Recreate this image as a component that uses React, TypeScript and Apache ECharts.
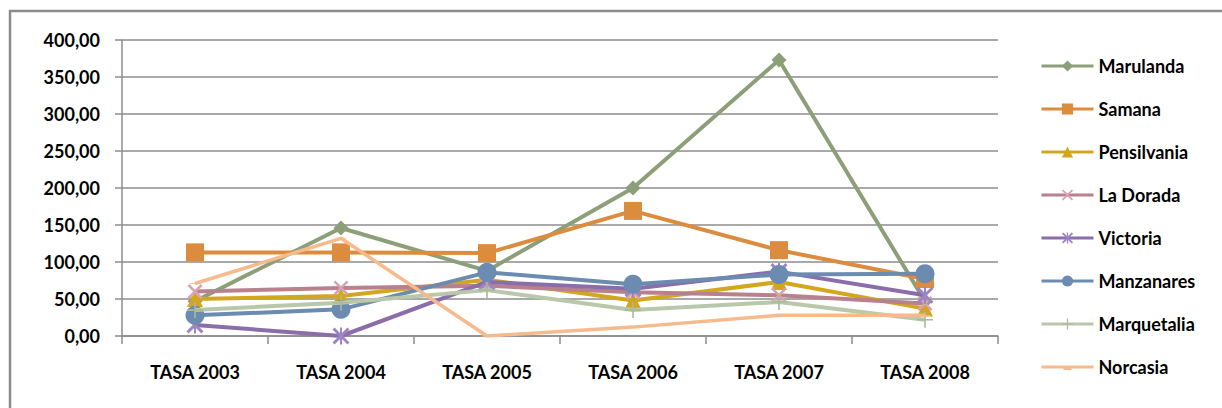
import React, { useEffect, useRef } from "react";
import * as echarts from "echarts";

const categories = ["TASA 2003", "TASA 2004", "TASA 2005", "TASA 2006", "TASA 2007", "TASA 2008"];
const yTicks = { min: 0, max: 400, interval: 50 };

const marulanda = [47, 146, 88, 200, 373, 47];
const samana = [113, 113, 112, 169, 116, 77];
const pensilvania = [50, 54, 76, 48, 73, 37];
const laDorada = [60, 65, 68, 59, 55, 44];
const victoria = [15, 0, 73, 64, 87, 55];
const manzanares = [28, 36, 86, 70, 83, 84];
const marquetalia = [35, 45, 62, 35, 46, 22];
const norcasia = [71, 132, 0, 12, 28, 28];

const seriesNames = ["Marulanda", "Samana", "Pensilvania", "La Dorada", "Victoria", "Manzanares", "Marquetalia", "Norcasia"];
const seriesValues = [marulanda, samana, pensilvania, laDorada, victoria, manzanares, marquetalia, norcasia];
const lineColors = ["#8D9F78", "#DB8C3E", "#D2A71F", "#B9808E", "#8B6DAA", "#6B8BB0", "#B9C8AA", "#F6BA8C"];
const markerColors = ["#8D9F78", "#DB8C3E", "#D2A71F", "#D9A2B4", "#9D84C4", "#6B8BB0", "#A9B99A", "#F6BA8C"];

const X_PATH = "path://M0,1.2 L1.2,0 L10,8.8 L8.8,10 Z M8.8,0 L10,1.2 L1.2,10 L0,8.8 Z";
const STAR_PATH = "path://M0,1.2 L1.2,0 L10,8.8 L8.8,10 Z M8.8,0 L10,1.2 L1.2,10 L0,8.8 Z M4.4,0 L5.6,0 L5.6,10 L4.4,10 Z";
const PLUS_PATH = "path://M4.5,0 L5.5,0 L5.5,10 L4.5,10 Z M0,4.5 L10,4.5 L10,5.5 L0,5.5 Z";
const DASH_PATH = "path://M0,0 L10,0 L10,3 L0,3 Z";
const NORC_LEGEND = "path://M0,0 L0.01,0 L0.01,0.01 Z M52,14 L51.99,14 L51.99,13.99 Z M0,5.5 L52,5.5 L52,8.5 L0,8.5 Z M22,7 L30,7 L30,10 L22,10 Z";
const symbols: any[] = ["diamond", "rect", "triangle", X_PATH, STAR_PATH, "circle", PLUS_PATH, DASH_PATH];
const symbolSizes: any[] = [15, 18, 16, 15, 17, 19, 16, [10, 3]];
const lineWidths = [4, 4, 4, 4, 4, 4, 4, 3.5];

const FONT = "Lato, 'Open Sans', sans-serif";

export default function App() {
  const ref = useRef<HTMLDivElement>(null);
  useEffect(() => {
    if (!ref.current) return;
    const chart = echarts.init(ref.current, undefined, { renderer: "svg" });
    chart.setOption({
      animation: false,
      backgroundColor: "#ffffff",
      textStyle: { fontFamily: FONT },
      graphic: [
        {
          type: "rect",
          shape: { x: 10, y: 11, width: 1240, height: 420 },
          style: { fill: "none", stroke: "#8c8c8c", lineWidth: 2.5 },
          z: 100,
        },
      ],
      grid: { left: 122, right: 224, top: 40, bottom: 72 },
      legend: {
        orient: "vertical",
        left: 1035,
        top: 52,
        itemWidth: 52,
        itemHeight: 14,
        itemGap: 25,
        textStyle: { fontFamily: FONT, fontSize: 18, fontWeight: "bold", color: "#000" },
        lineStyle: { width: 3 },
        data: seriesNames.map((n) => (n === "Norcasia" ? { name: n, icon: NORC_LEGEND } : n)),
      },
      xAxis: {
        type: "category",
        data: categories,
        boundaryGap: true,
        axisLine: { show: true, lineStyle: { color: "#8c8c8c", width: 1.5 } },
        axisTick: { show: true, length: 8, lineStyle: { color: "#8c8c8c", width: 1.5 } },
        axisLabel: { color: "#000", fontSize: 18, fontWeight: "bold", fontFamily: FONT, margin: 27 },
      },
      yAxis: {
        type: "value",
        min: yTicks.min,
        max: yTicks.max,
        interval: yTicks.interval,
        axisLine: { show: true, lineStyle: { color: "#8c8c8c", width: 1.5 } },
        axisTick: { show: true, length: 7, lineStyle: { color: "#8c8c8c", width: 1.5 } },
        splitLine: { show: true, lineStyle: { color: "#8c8c8c", width: 1.5 } },
        axisLabel: {
          color: "#000",
          fontSize: 18,
          fontWeight: "bold",
          fontFamily: FONT,
          margin: 22,
          formatter: (v: number) => v.toFixed(2).replace(".", ","),
        },
      },
      series: seriesNames.map((name, i) => ({
        name,
        type: "line",
        data: seriesValues[i],
        symbol: symbols[i],
        symbolSize: symbolSizes[i],
        symbolKeepAspect: true,
        showAllSymbol: true,
        lineStyle: { color: lineColors[i], width: lineWidths[i] },
        itemStyle: { color: markerColors[i], borderWidth: 0 },
        emphasis: { disabled: true },
        z: 2 + i,
      })),
    });
    return () => chart.dispose();
  }, []);
  return <div ref={ref} style={{ position: "absolute", left: 0, top: 0, width: 1222, height: 408 }} />;
}
